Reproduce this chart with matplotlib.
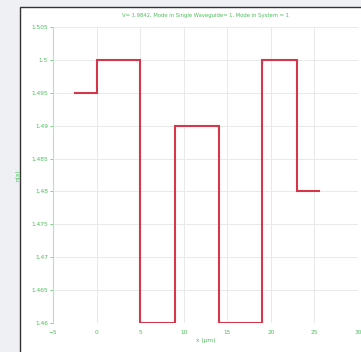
import matplotlib
matplotlib.use("Agg")
import matplotlib.pyplot as plt
from matplotlib.patches import Rectangle

# Refractive index profile n(x) across the waveguide system (step profile)
x_edges = [-2.5, 0, 5, 9, 14, 19, 23, 25.5]
n_values = [1.495, 1.5, 1.46, 1.49, 1.46, 1.5, 1.48]

x_ticks = [-5, 0, 5, 10, 15, 20, 25, 30]
y_ticks = [1.46, 1.465, 1.47, 1.475, 1.48, 1.485, 1.49, 1.495, 1.5, 1.505]
y_tick_labels = ["1.46", "1.465", "1.47", "1.475", "1.48", "1.485", "1.49", "1.495", "1.5", "1.505"]

title = "V= 1.9842, Mode in Single Waveguide= 1, Mode in System = 1"
green = "#4cbf5a"
red = "#d5374a"

fig = plt.figure(figsize=(3.61, 3.52), dpi=100)
fig.patch.set_facecolor("#eef0f3")

# white panel with a dark frame
panel = Rectangle((20 / 361, -0.01), 1.05, 1 - 7 / 352 + 0.01,
                  transform=fig.transFigure, facecolor="white",
                  edgecolor="#333333", linewidth=1.0, zorder=-5)
fig.patches.append(panel)

ax = fig.add_axes([53 / 361, 1 - 323 / 352, (358 - 53) / 361, (323 - 27) / 352])
ax.set_zorder(5)
ax.set_facecolor("white")

# build the step outline from edges and levels
xs, ys = [], []
for i, n in enumerate(n_values):
    xs += [x_edges[i], x_edges[i + 1]]
    ys += [n, n]
ax.plot(xs, ys, color=red, linewidth=1.5, solid_joinstyle="miter", zorder=3)

ax.set_xlim(-5, 30)
ax.set_ylim(1.46, 1.505)
ax.set_xticks(x_ticks)
ax.set_yticks(y_ticks)
ax.set_yticklabels(y_tick_labels)
ax.grid(True, color="#e6ebea", linewidth=0.7)

for side in ["top", "right", "bottom"]:
    ax.spines[side].set_visible(False)
ax.spines["left"].set_color("#b5e3b8")
ax.spines["left"].set_linewidth(0.8)

ax.tick_params(axis="y", colors=green, labelsize=4.2, length=2.5, width=0.5, pad=1)
ax.tick_params(axis="x", colors=green, labelsize=4.2, length=0, pad=5)

ax.set_xlabel("x (\u03bcm)", color=green, fontsize=4.2, labelpad=2)
ax.set_ylabel("n(x)", color=green, fontsize=4.2, labelpad=8)
ax.set_title(title, color=green, fontsize=3.8, pad=7)

fig.savefig("out.png", dpi=100, facecolor=fig.get_facecolor())
